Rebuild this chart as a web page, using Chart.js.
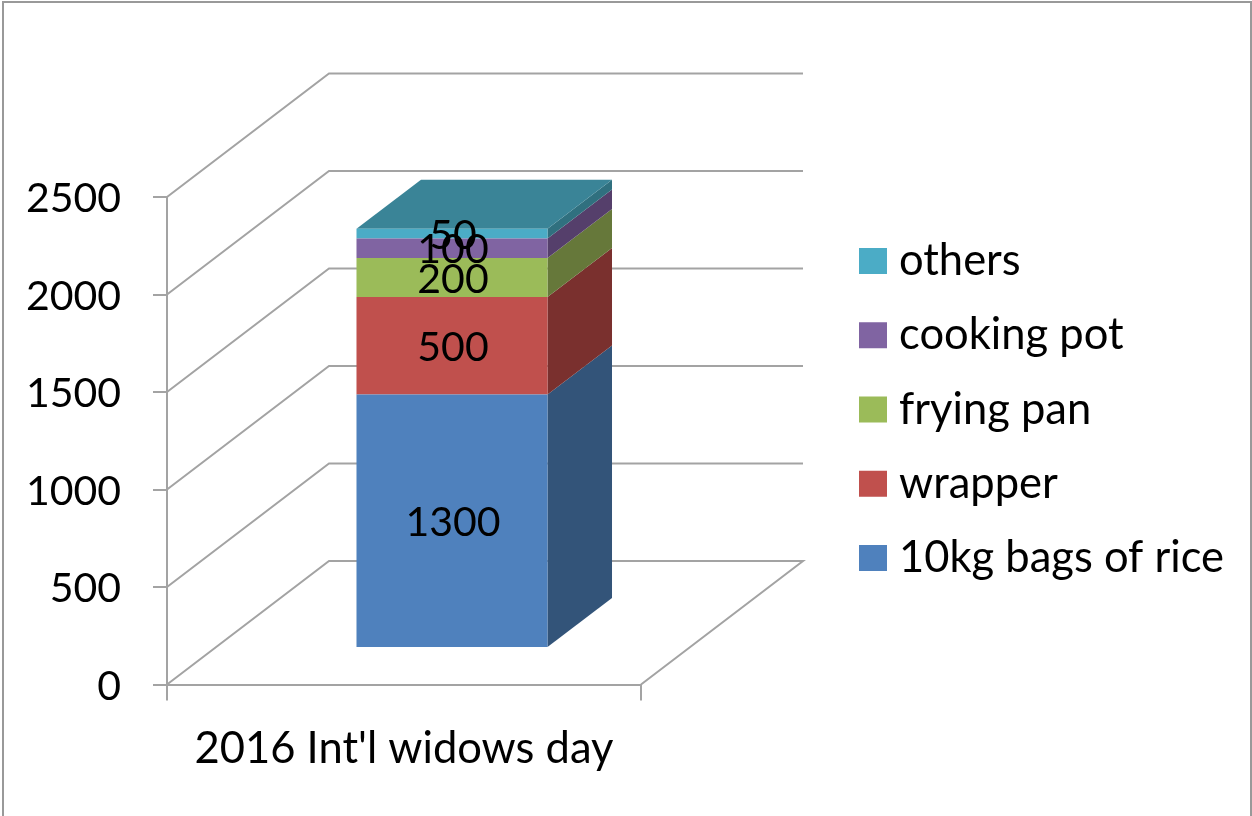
<!DOCTYPE html>
<html>
<head>
<meta charset="utf-8">
<title>2016 Int'l widows day</title>
<script src="https://cdn.jsdelivr.net/npm/chart.js@4"></script>
<style>
  html, body { margin: 0; padding: 0; background: #fff; }
  canvas { display: block; }
</style>
</head>
<body>
<canvas id="widowsChart" width="1252" height="816"></canvas>
<script>
const categories = ["2016 Int'l widows day"];
const seriesNames = ["10kg bags of rice", "wrapper", "frying pan", "cooking pot", "others"];
const riceBags = [1300];
const wrappers = [500];
const fryingPans = [200];
const cookingPots = [100];
const others = [50];
const axisTicks = [0, 500, 1000, 1500, 2000, 2500];

const frontColors = ["#4F81BD", "#C0504D", "#9BBB59", "#8064A2", "#4BACC6"];
const sideColors = ["#335479", "#7A302E", "#66783A", "#553F6B", "#30707F"];
const topColor = "#3A8497";
const lineColor = "#A3A3A3";
const fontFamily = "Lato";

// the fake 3D: how far the wall sits behind the axes, and the bar inside that depth
const wall = { dx: 162, dy: -123.5 };
const barShift = { dx: 48, dy: -36.5 };
const barDepth = { dx: 64.5, dy: -49 };

const pseudo3d = {
    id: "pseudo3d",
    beforeDraw(chart) {
        const ctx = chart.ctx;
        // frame of the pasted picture, open at the bottom
        ctx.save();
        ctx.strokeStyle = "#999";
        ctx.lineWidth = 2;
        ctx.beginPath();
        ctx.moveTo(3, 816);
        ctx.lineTo(3, 2);
        ctx.lineTo(1251, 2);
        ctx.lineTo(1251, 816);
        ctx.stroke();
        ctx.restore();
    },
    beforeDatasetsDraw(chart) {
        const ctx = chart.ctx;
        const area = chart.chartArea;
        const y = chart.scales.y;

        ctx.save();
        ctx.strokeStyle = lineColor;
        ctx.lineWidth = 2;
        axisTicks.forEach(function(tick) {
            const py = y.getPixelForValue(tick);
            ctx.beginPath();
            ctx.moveTo(area.left, py);
            ctx.lineTo(area.left + wall.dx, py + wall.dy);
            ctx.lineTo(area.right + wall.dx, py + wall.dy);
            if (tick === 0) {
                ctx.lineTo(area.right, py);
            }
            ctx.stroke();
        });
        ctx.restore();

        // stays translated until afterDatasetsDraw so the bars land on the floor
        ctx.save();
        ctx.translate(barShift.dx, barShift.dy);
        chart.data.datasets.forEach(function(ds, i) {
            const bar = chart.getDatasetMeta(i).data[0];
            const right = bar.x + bar.width / 2;
            ctx.fillStyle = sideColors[i];
            ctx.beginPath();
            ctx.moveTo(right, bar.y);
            ctx.lineTo(right + barDepth.dx, bar.y + barDepth.dy);
            ctx.lineTo(right + barDepth.dx, bar.base + barDepth.dy);
            ctx.lineTo(right, bar.base);
            ctx.closePath();
            ctx.fill();
        });
        const last = chart.getDatasetMeta(chart.data.datasets.length - 1).data[0];
        const left = last.x - last.width / 2;
        ctx.fillStyle = topColor;
        ctx.beginPath();
        ctx.moveTo(left, last.y);
        ctx.lineTo(left + barDepth.dx, last.y + barDepth.dy);
        ctx.lineTo(left + last.width + barDepth.dx, last.y + barDepth.dy);
        ctx.lineTo(left + last.width, last.y);
        ctx.closePath();
        ctx.fill();
    },
    afterDatasetsDraw(chart) {
        const ctx = chart.ctx;
        ctx.restore();

        // value labels
        ctx.save();
        ctx.font = "41px " + fontFamily;
        ctx.fillStyle = "#000";
        ctx.textAlign = "center";
        ctx.textBaseline = "middle";
        chart.data.datasets.forEach(function(ds, i) {
            const bar = chart.getDatasetMeta(i).data[0];
            ctx.fillText(String(ds.data[0]), bar.x + barShift.dx + 1, (bar.y + bar.base) / 2 + barShift.dy + 2);
        });
        ctx.restore();

        // legend, top of the stack first
        ctx.save();
        ctx.font = "43.5px " + fontFamily;
        ctx.textBaseline = "middle";
        chart.data.datasets.forEach(function(ds, i) {
            const cy = 558 - i * 74.25;
            ctx.fillStyle = ds.backgroundColor;
            ctx.fillRect(859, cy - 13, 28, 26);
            ctx.fillStyle = "#000";
            ctx.fillText(ds.label, 899, cy);
        });
        ctx.restore();
    }
};

const widowsChart = new Chart(document.getElementById("widowsChart").getContext("2d"), {
    type: "bar",
    data: {
        labels: categories,
        datasets: [riceBags, wrappers, fryingPans, cookingPots, others].map(function(values, i) {
            return {
                label: seriesNames[i],
                data: values,
                backgroundColor: frontColors[i],
                borderWidth: 0,
                clip: false
            };
        })
    },
    options: {
        responsive: false,
        animation: false,
        barPercentage: 0.403,
        categoryPercentage: 1,
        layout: {
            padding: { left: 27, right: 611, top: 197, bottom: 31.5 }
        },
        plugins: {
            legend: { display: false },
            tooltip: { enabled: false }
        },
        scales: {
            x: {
                stacked: true,
                afterFit: function(scale) { scale.height = 100; },
                grid: {
                    offset: true,
                    drawOnChartArea: false,
                    tickLength: 16,
                    color: lineColor,
                    lineWidth: 2
                },
                border: { color: lineColor, width: 2 },
                ticks: {
                    maxRotation: 0,
                    color: "#000",
                    padding: 22,
                    font: { family: fontFamily, size: 43.5 }
                }
            },
            y: {
                stacked: true,
                min: 0,
                max: 2500,
                afterFit: function(scale) { scale.width = 140; },
                afterBuildTicks: function(scale) {
                    scale.ticks = axisTicks.map(function(v) { return { value: v }; });
                },
                grid: {
                    drawOnChartArea: false,
                    tickLength: 14,
                    color: lineColor,
                    lineWidth: 2
                },
                border: { color: lineColor, width: 2 },
                ticks: {
                    color: "#000",
                    padding: 32,
                    labelOffset: 2,
                    callback: function(value) { return String(value); },
                    font: { family: fontFamily, size: 41 }
                }
            }
        }
    },
    plugins: [pseudo3d]
});
</script>
</body>
</html>
